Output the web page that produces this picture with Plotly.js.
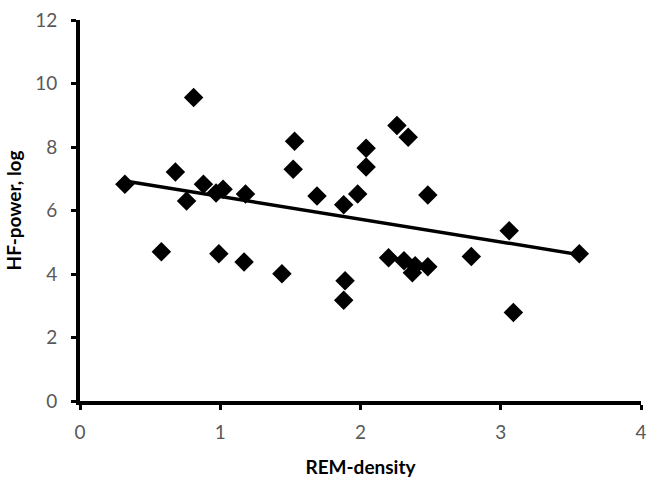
<!DOCTYPE html>
<html><head><meta charset="utf-8">
<script src="https://cdn.plot.ly/plotly-3.0.1.min.js"></script>
<style>html,body{margin:0;padding:0;background:#fff}#c{width:646px;height:482px}</style>
</head><body><div id="c"></div>
<script>
const remDensity = [0.32,0.58,0.68,0.76,0.81,0.88,0.97,0.99,1.02,1.18,1.17,1.44,1.52,1.53,1.69,1.88,1.88,1.89,1.98,2.04,2.04,2.20,2.26,2.31,2.34,2.39,2.37,2.48,2.48,2.79,3.06,3.09,3.56];
const hfPower    = [6.83,4.70,7.21,6.30,9.56,6.83,6.55,4.64,6.67,6.52,4.38,4.01,7.30,8.18,6.46,6.18,3.17,3.79,6.52,7.37,7.96,4.51,8.68,4.42,8.31,4.26,4.04,4.23,6.49,4.55,5.36,2.79,4.64];
const trendX = [0.32, 3.56];
const trendY = [6.93, 4.61];
const xTicks = [0,1,2,3,4];
const yTicks = [0,2,4,6,8,10,12];

const data = [
  {x: trendX, y: trendY, mode:'lines', type:'scatter', line:{color:'#000', width:3.5}, hoverinfo:'skip'},
  {x: remDensity, y: hfPower, mode:'markers', type:'scatter', marker:{symbol:'diamond', size:15, color:'#000'}}
];
const tickFont = {family:'Lato, "Open Sans", sans-serif', size:19, color:'#595959'};
const titleFont = {family:'Lato, "Open Sans", sans-serif', size:19, color:'#000', weight:'bold'};
const layout = {
  width:646, height:482, showlegend:false,
  margin:{l:80, r:5, t:20, b:81},
  paper_bgcolor:'#fff', plot_bgcolor:'#fff',
  xaxis:{range:[0,4], tickvals:xTicks, ticks:'outside', ticklen:5, tickwidth:3, tickcolor:'#000',
    showline:true, linewidth:4, linecolor:'#000', showgrid:false, zeroline:false,
    ticklabeloverflow:'allow', ticklabelstandoff:6,
    tickfont:tickFont, title:{text:'REM-density', font:titleFont, standoff:20}},
  yaxis:{range:[0,12], tickvals:yTicks, ticks:'outside', ticklen:5, tickwidth:3, tickcolor:'#000',
    showline:true, linewidth:4, linecolor:'#000', showgrid:false, zeroline:false,
    ticklabeloverflow:'allow', ticklabelstandoff:10,
    tickfont:tickFont, title:{text:'HF-power, log', font:titleFont, standoff:10}}
};
Plotly.newPlot('c', data, layout, {displayModeBar:false, staticPlot:true});
</script></body></html>
